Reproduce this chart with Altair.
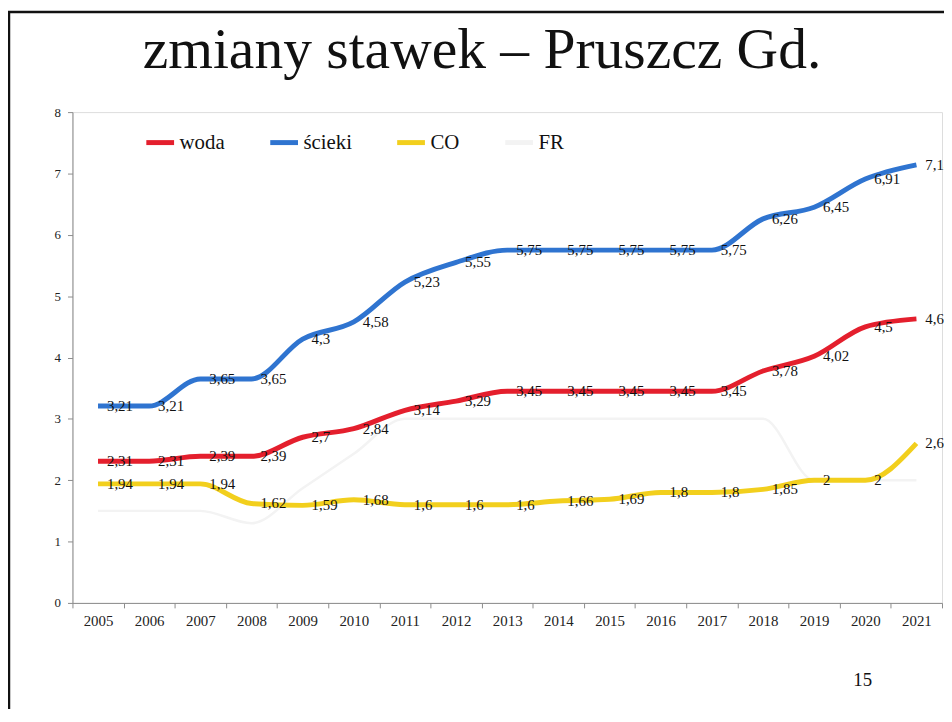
import altair as alt
import pandas as pd

# ---- data ----
years = [str(y) for y in range(2005, 2022)]
woda = [2.31, 2.31, 2.39, 2.39, 2.7, 2.84, 3.14, 3.29, 3.45, 3.45, 3.45, 3.45, 3.45, 3.78, 4.02, 4.5, 4.63]
scieki = [3.21, 3.21, 3.65, 3.65, 4.3, 4.58, 5.23, 5.55, 5.75, 5.75, 5.75, 5.75, 5.75, 6.26, 6.45, 6.91, 7.14]
co = [1.94, 1.94, 1.94, 1.62, 1.59, 1.68, 1.6, 1.6, 1.6, 1.66, 1.69, 1.8, 1.8, 1.85, 2, 2, 2.6]
fr = [1.5, 1.5, 1.5, 1.3, 1.87, 2.43, 3, 3, 3, 3, 3, 3, 3, 3, 2, 2, 2]
series_names = ["woda", "ścieki", "CO", "FR"]
series_colors = ["#e41f2d", "#2f74d0", "#f2cf1d", "#f3f3f3"]
y_ticks = [0, 1, 2, 3, 4, 5, 6, 7, 8]
title_text = "zmiany stawek – Pruszcz Gd."
page_number = "15"

rows = []
for name, vals in zip(series_names, [woda, scieki, co, fr]):
    for yr, v in zip(years, vals):
        rows.append({"rok": yr, "seria": name, "wartosc": v})
df = pd.DataFrame(rows)
df_main = df[df["seria"] != "FR"]
df_fr = df[df["seria"] == "FR"]

W, H = 877, 495
SERIF = "Liberation Serif"

x_enc = alt.X(
    "rok:O",
    bandPosition=0.5,
    scale=alt.Scale(type="band", paddingInner=0, paddingOuter=0),
    axis=alt.Axis(
        title=None, labelAngle=0, tickBand="extent", labelFont=SERIF,
        labelFontSize=15, labelColor="#222", labelPadding=6, tickSize=5,
        domainColor="#8c8c8c", tickColor="#8c8c8c",
    ),
)
y_enc = alt.Y(
    "wartosc:Q",
    scale=alt.Scale(domain=[0, 8], nice=False, zero=True),
    axis=alt.Axis(
        title=None, values=y_ticks, grid=False, labelFont=SERIF, labelFontSize=13,
        labelColor="#222", labelPadding=7, tickSize=5,
        domainColor="#8c8c8c", tickColor="#8c8c8c",
    ),
)
color_enc = alt.Color(
    "seria:N",
    scale=alt.Scale(domain=series_names, range=series_colors),
    legend=alt.Legend(
        orient="none", legendX=72, legendY=14, direction="horizontal", title=None,
        symbolType="stroke", symbolSize=784, symbolStrokeWidth=5,
        labelFont=SERIF, labelFontSize=21, labelColor="#111", labelOffset=3,
        columnPadding=35, padding=0,
    ),
)

fr_line = alt.Chart(df_fr).mark_line(strokeWidth=2.5, interpolate="monotone").encode(
    x=x_enc, y=y_enc, color=color_enc
)
main_lines = alt.Chart(df_main).mark_line(strokeWidth=5, interpolate="monotone").encode(
    x=x_enc, y=y_enc, color=color_enc
)
labels = alt.Chart(df_main).transform_calculate(
    etykieta="replace(toString(datum.wartosc), '.', ',')"
).mark_text(
    align="left", baseline="middle", dx=9, font=SERIF, fontSize=15, color="#111"
).encode(x=x_enc, y=y_enc, text="etykieta:N")

title = alt.Chart(pd.DataFrame({"t": [title_text]})).mark_text(
    font=SERIF, fontSize=58, color="#111", align="center", baseline="alphabetic"
).encode(x=alt.value(413), y=alt.value(-44), text="t:N")

page = alt.Chart(pd.DataFrame({"t": [page_number]})).mark_text(
    font=SERIF, fontSize=19, color="#111", align="center", baseline="middle"
).encode(x=alt.value(797), y=alt.value(573), text="t:N")

border_left = alt.Chart(pd.DataFrame({"a": [0]})).mark_rule(
    color="#111", strokeWidth=2.5
).encode(x=alt.value(-64), y=alt.value(-102), y2=alt.value(720))
border_top = alt.Chart(pd.DataFrame({"a": [0]})).mark_rule(
    color="#111", strokeWidth=2.5
).encode(x=alt.value(-66), x2=alt.value(900), y=alt.value(-101))

chart = alt.layer(
    border_left, border_top, title, page, fr_line, main_lines, labels
).properties(
    width=W, height=H,
    autosize=alt.AutoSizeParams(type="none"),
    padding={"left": 65, "top": 102, "right": 2, "bottom": 104},
).configure_view(stroke=None).configure(background="white")

chart.save("out.html", embed_options={"renderer": "svg", "actions": False})
